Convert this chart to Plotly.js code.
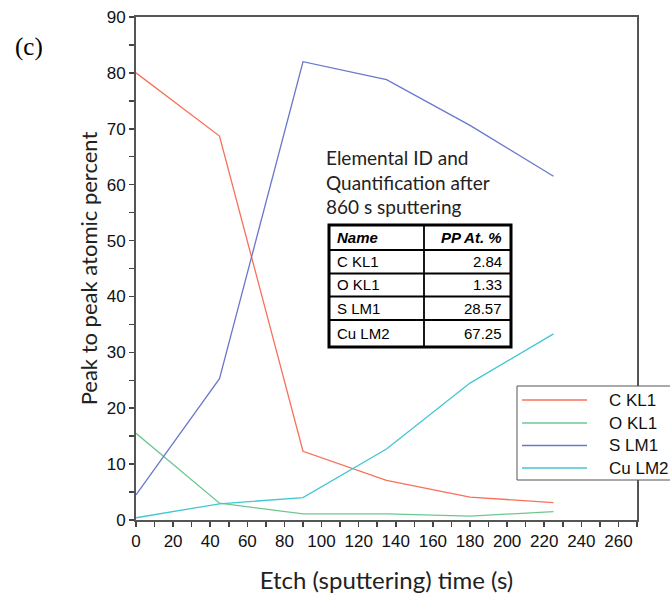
<!DOCTYPE html>
<html>
<head>
<meta charset="utf-8">
<script src="https://cdn.plot.ly/plotly-3.0.1.min.js"></script>
<style>html,body{margin:0;padding:0;background:#fff;}</style>
</head>
<body>
<div id="chart" style="width:670px;height:596px;"></div>
<script>
// Data
const etchTime = [0, 45, 90, 135, 180, 225];
const cKL1  = [80, 68.7, 12.3, 7.1, 4.1, 3.1];
const oKL1  = [15.5, 3.0, 1.1, 1.1, 0.7, 1.5];
const sLM1  = [4.5, 25.3, 82, 78.8, 70.6, 61.5];
const cuLM2 = [0.4, 2.9, 4.0, 12.7, 24.5, 33.3];
const seriesNames = ["C KL1", "O KL1", "S LM1", "Cu LM2"];
const seriesColors = ["#f8705a", "#6cc890", "#6a78cc", "#42c6d4"];

const tableHeader = ["Name", "PP At. %"];
const tableNames = ["C KL1", "O KL1", "S LM1", "Cu LM2"];
const tableValues = ["2.84", "1.33", "28.57", "67.25"];

// plot-area geometry (pixels) used to place the inset table / legend box in paper coordinates
const M = {l: 136, r: 33, t: 17, b: 76};
const W = 670, H = 596;
const pw = W - M.l - M.r, ph = H - M.t - M.b;
const px = v => (v - M.l) / pw;
const py = v => (H - M.b - v) / ph;

const seriesData = [cKL1, oKL1, sLM1, cuLM2];
const traces = seriesData.map((ys, i) => ({
  type: "scatter", mode: "lines",
  x: etchTime, y: ys, name: seriesNames[i],
  line: {color: seriesColors[i], width: 1.3},
  showlegend: false
}));

const shapes = [];
const annotations = [];

// inset table (shapes + text)
const tLeft = 329, tRight = 511, tCol = 424;
const rowEdges = [225, 250, 273.5, 296.5, 320, 347];
const tFont = {family: "Liberation Sans, Arial", size: 15, color: "#000"};
for (let i = 1; i < rowEdges.length - 1; i++) {
  shapes.push({type: "line", xref: "paper", yref: "paper", x0: px(tLeft), x1: px(tRight),
    y0: py(rowEdges[i]), y1: py(rowEdges[i]), line: {color: "#000", width: 1.8}});
}
shapes.push({type: "line", xref: "paper", yref: "paper", x0: px(tCol), x1: px(tCol),
  y0: py(rowEdges[0]), y1: py(rowEdges[rowEdges.length - 1]), line: {color: "#000", width: 1.8}});
shapes.push({type: "rect", xref: "paper", yref: "paper", x0: px(tLeft), x1: px(tRight),
  y0: py(rowEdges[rowEdges.length - 1]), y1: py(rowEdges[0]), line: {color: "#000", width: 3}});
const rowLabels = [tableHeader[0]].concat(tableNames);
const rowVals = [tableHeader[1]].concat(tableValues);
for (let i = 0; i < rowLabels.length; i++) {
  const yc = py((rowEdges[i] + rowEdges[i + 1]) / 2);
  const hdr = i === 0;
  annotations.push({text: hdr ? "<b><i>" + rowLabels[i] + "</i></b>" : rowLabels[i],
    xref: "paper", yref: "paper", x: px(tLeft + 6), y: yc, xanchor: "left", yanchor: "middle",
    showarrow: false, font: tFont});
  annotations.push({text: hdr ? "<b><i>" + rowVals[i] + "</i></b>" : rowVals[i],
    xref: "paper", yref: "paper", x: px(tRight - 7), y: yc, xanchor: "right", yanchor: "middle",
    showarrow: false, font: tFont});
}

// legend box (drawn as in the reference, extending past the right edge)
const lgTop = 386, lgBottom = 480, lgLeft = 517;
const lgRows = [400, 423, 445.5, 468];
shapes.push({type: "rect", xref: "paper", yref: "paper", x0: px(lgLeft), x1: px(W + 10),
  y0: py(lgBottom), y1: py(lgTop), line: {color: "#555", width: 1}, fillcolor: "#fff", layer: "above"});
seriesNames.forEach((nm, i) => {
  shapes.push({type: "line", xref: "paper", yref: "paper", x0: px(522), x1: px(587),
    y0: py(lgRows[i]), y1: py(lgRows[i]), line: {color: seriesColors[i], width: 1.6}, layer: "above"});
  annotations.push({text: nm, xref: "paper", yref: "paper", x: px(607), y: py(lgRows[i]),
    xanchor: "left", yanchor: "middle", showarrow: false,
    font: {family: "Liberation Sans, Arial", size: 17, color: "#111"}});
});

annotations.push(
  {text: "(c)", xref: "paper", yref: "paper", x: px(13), y: py(47), xanchor: "left", yanchor: "middle",
   showarrow: false, font: {family: "Liberation Serif, Times New Roman", size: 25, color: "#000"}},
  {text: "Elemental ID and<br>Quantification after<br>860 s sputtering", xref: "paper", yref: "paper",
   x: px(324), y: py(182), xanchor: "left", yanchor: "middle", align: "left", showarrow: false,
   font: {family: "Lato, Open Sans", size: 19, color: "#222"}}
);

const axisFont = {family: "Liberation Sans, Arial", size: 17, color: "#111"};
const layout = {
  width: W, height: H,
  margin: M,
  paper_bgcolor: "#fff", plot_bgcolor: "#fff",
  showlegend: false,
  xaxis: {
    range: [0, 270], dtick: 20, tick0: 0,
    showgrid: false, zeroline: false,
    showline: true, linecolor: "#555", linewidth: 2, mirror: true,
    ticks: "outside", ticklen: 5, tickcolor: "#444", tickwidth: 1.5,
    minor: {dtick: 10, ticks: "outside", ticklen: 5, tickcolor: "#444", tickwidth: 1.5, showgrid: false},
    tickfont: axisFont,
    title: {text: "Etch (sputtering) time (s)", font: {family: "Lato, Open Sans", size: 24, color: "#222"}, standoff: 22}
  },
  yaxis: {
    range: [0, 90], dtick: 10, tick0: 0,
    showgrid: false, zeroline: false,
    showline: true, linecolor: "#555", linewidth: 2, mirror: true,
    ticks: "outside", ticklen: 5, tickcolor: "#444", tickwidth: 1.5,
    minor: {dtick: 5, ticks: "outside", ticklen: 5, tickcolor: "#444", tickwidth: 1.5, showgrid: false},
    tickfont: axisFont,
    title: {text: "Peak to peak atomic percent", font: {family: "Lato, Open Sans", size: 22, color: "#222"}, standoff: 3}
  },
  shapes: shapes,
  annotations: annotations
};

Plotly.newPlot("chart", traces, layout, {displayModeBar: false, staticPlot: true});
</script>
</body>
</html>
